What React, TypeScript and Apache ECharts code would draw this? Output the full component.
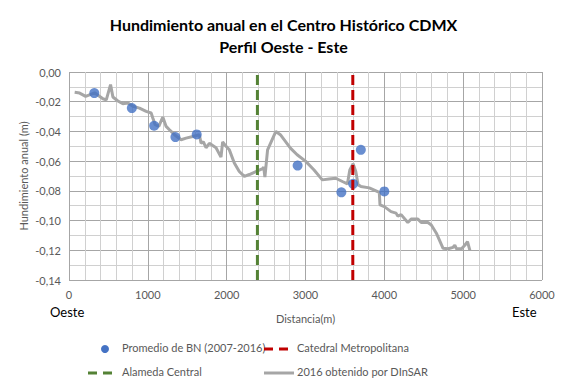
import React, { useEffect, useRef } from "react";
import * as echarts from "echarts";

const titleLines = ["Hundimiento anual en el Centro Histórico CDMX", "Perfil Oeste - Este"];
const yAxisTitle = "Hundimiento anual (m)";

// DInSAR 2016 profile
const dinsarX = [72, 135, 211, 325, 430, 473, 527, 557, 620, 683, 747, 810, 894, 979, 1042, 1063, 1093, 1139, 1190, 1232, 1274, 1338, 1422, 1485, 1570, 1654, 1675, 1705, 1738, 1780, 1865, 1928, 1949, 1992, 2034, 2097, 2160, 2224, 2287, 2371, 2456, 2470, 2485, 2519, 2624, 2681, 2809, 2894, 3000, 3106, 3213, 3298, 3383, 3468, 3532, 3562, 3604, 3638, 3668, 3702, 3809, 3894, 3936, 3945, 4000, 4085, 4149, 4170, 4213, 4298, 4340, 4426, 4468, 4553, 4596, 4660, 4745, 4809, 4872, 4894, 4915, 4979, 5021, 5055, 5085];
const dinsarY = [-0.0137, -0.0142, -0.0164, -0.014, -0.018, -0.0188, -0.0085, -0.0168, -0.0195, -0.0213, -0.0209, -0.0231, -0.0243, -0.0265, -0.0276, -0.031, -0.0355, -0.0366, -0.0303, -0.0366, -0.0389, -0.0422, -0.0456, -0.0445, -0.0434, -0.0422, -0.048, -0.047, -0.051, -0.048, -0.051, -0.0573, -0.047, -0.05, -0.0524, -0.0613, -0.067, -0.0703, -0.069, -0.067, -0.065, -0.064, -0.0708, -0.0524, -0.04, -0.0422, -0.0512, -0.0557, -0.06, -0.0658, -0.0726, -0.072, -0.0715, -0.0737, -0.0753, -0.066, -0.0618, -0.067, -0.076, -0.077, -0.078, -0.08, -0.081, -0.0894, -0.0906, -0.094, -0.095, -0.097, -0.096, -0.1013, -0.099, -0.099, -0.1013, -0.1013, -0.103, -0.1085, -0.1187, -0.119, -0.118, -0.1166, -0.119, -0.119, -0.1166, -0.1142, -0.12];

// Promedio de BN (2007-2016)
const bnX = [321, 797, 1080, 1350, 1620, 2900, 3455, 3604, 3702, 4000];
const bnY = [-0.0142, -0.0243, -0.0362, -0.0438, -0.042, -0.063, -0.081, -0.0753, -0.0524, -0.0804];

const alamedaX = 2390;
const catedralX = 3600;
const yRange = [-0.14, 0];
const xRange = [0, 6000];

const seriesNames = ["Promedio de BN (2007-2016)", "Catedral Metropolitana", "Alameda Central", "2016 obtenido por DInSAR"];

const FONT = "Lato";
const GRAY_TXT = "#595959";

export default function App() {
  const ref = useRef<HTMLDivElement>(null);
  useEffect(() => {
    const chart = echarts.init(ref.current!, null, { renderer: "svg" });
    const fmtY = (v: number) => v.toFixed(2).replace(".", ",");
    chart.setOption({
      animation: false,
      backgroundColor: "#ffffff",
      textStyle: { fontFamily: FONT },
      title: {
        text: titleLines.join("\n"),
        left: "center",
        top: 8,
        textStyle: { fontFamily: FONT, fontSize: 16, fontWeight: "bold", color: "#000", lineHeight: 22 },
      },
      grid: { left: 69, right: 25, top: 72, bottom: 109 },
      xAxis: {
        type: "value",
        min: xRange[0],
        max: xRange[1],
        interval: 1000,
        name: "Distancia(m)",
        nameLocation: "middle",
        nameGap: 33,
        nameTextStyle: { color: GRAY_TXT, fontSize: 11, fontFamily: FONT },
        axisLine: { show: false },
        axisTick: { show: false },
        axisLabel: { color: GRAY_TXT, fontSize: 11, fontFamily: FONT, margin: 9, formatter: (v: number) => String(v) },
        splitLine: { show: true, lineStyle: { color: "#a6a6a6", width: 1 } },
        minorTick: { show: false, splitNumber: 5 },
        minorSplitLine: { show: true, lineStyle: { color: "#d0d0d0", width: 1 } },
      },
      yAxis: {
        type: "value",
        min: yRange[0],
        max: yRange[1],
        interval: 0.02,
        axisLine: { show: false },
        axisTick: { show: false },
        axisLabel: { color: GRAY_TXT, fontSize: 11, fontFamily: FONT, margin: 8, formatter: fmtY },
        splitLine: { show: true, lineStyle: { color: "#a6a6a6", width: 1 } },
        minorTick: { show: false, splitNumber: 2 },
        minorSplitLine: { show: true, lineStyle: { color: "#d0d0d0", width: 1 } },
      },
      series: [
        {
          name: seriesNames[3],
          type: "line",
          data: dinsarX.map((x, i) => [x, dinsarY[i]]),
          showSymbol: false,
          symbol: "none",
          lineStyle: { color: "#a6a6a6", width: 3 },
          z: 2,
        },
        {
          name: seriesNames[2],
          type: "line",
          data: [[alamedaX, yRange[0]], [alamedaX, yRange[1]]],
          symbol: "none",
          lineStyle: { color: "#548235", width: 3, type: [10, 5] },
          z: 3,
        },
        {
          name: seriesNames[0],
          type: "scatter",
          data: bnX.map((x, i) => [x, bnY[i]]),
          symbol: "circle",
          symbolSize: 10,
          itemStyle: { color: "#4472C4" },
          z: 4,
        },
        {
          name: seriesNames[1],
          type: "line",
          data: [[catedralX, yRange[0]], [catedralX, yRange[1]]],
          symbol: "none",
          lineStyle: { color: "#C00000", width: 3, type: [10, 5] },
          z: 5,
        },
      ],
      graphic: [
        {
          type: "text",
          x: 23,
          y: 176,
          rotation: Math.PI / 2,
          style: { text: yAxisTitle, fontFamily: FONT, fontSize: 11, fill: GRAY_TXT, align: "center", verticalAlign: "middle" },
        },
        { type: "text", left: 50, top: 305, style: { text: "Oeste", fontFamily: FONT, fontSize: 13, fill: "#000" } },
        { type: "text", left: 512, top: 305, style: { text: "Este", fontFamily: FONT, fontSize: 13, fill: "#000" } },
        // legend row 1
        { type: "circle", shape: { cx: 105, cy: 349, r: 4 }, style: { fill: "#4472C4" } },
        { type: "text", left: 122, top: 342, style: { text: seriesNames[0], fontFamily: FONT, fontSize: 11, fill: GRAY_TXT } },
        { type: "line", shape: { x1: 264, y1: 349, x2: 292, y2: 349 }, style: { stroke: "#C00000", lineWidth: 3, lineDash: [9, 6] } },
        { type: "text", left: 297, top: 342, style: { text: seriesNames[1], fontFamily: FONT, fontSize: 11, fill: GRAY_TXT } },
        // legend row 2
        { type: "line", shape: { x1: 88, y1: 373, x2: 116, y2: 373 }, style: { stroke: "#548235", lineWidth: 3, lineDash: [9, 6] } },
        { type: "text", left: 122, top: 366, style: { text: seriesNames[2], fontFamily: FONT, fontSize: 11, fill: GRAY_TXT } },
        { type: "line", shape: { x1: 264, y1: 373, x2: 294, y2: 373 }, style: { stroke: "#a6a6a6", lineWidth: 3 } },
        { type: "text", left: 297, top: 366, style: { text: seriesNames[3], fontFamily: FONT, fontSize: 11, fill: GRAY_TXT } },
      ],
    });
    return () => chart.dispose();
  }, []);
  return <div ref={ref} style={{ width: 567, height: 389, position: "absolute", left: 0, top: 0 }} />;
}
